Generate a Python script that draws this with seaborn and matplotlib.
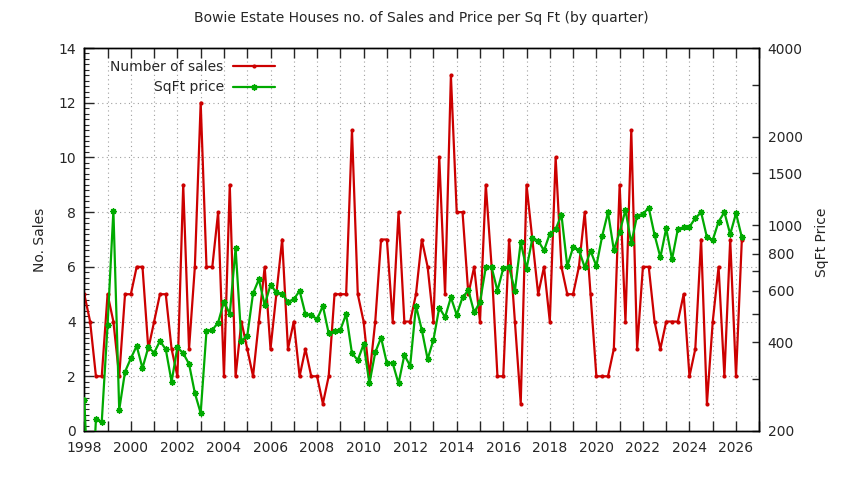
import numpy as np
import pandas as pd
import matplotlib
matplotlib.use("Agg")
import matplotlib.pyplot as plt
import matplotlib.ticker as mticker
import seaborn as sns

# ---------------- data ----------------
first_quarter = "1998Q1"
sales = [5, 4, 2, 2, 5, 4, 2, 5, 5, 6,
         6, 3, 4, 5, 5, 3, 2, 9, 3, 6,
         12, 6, 6, 8, 2, 9, 2, 4, 3, 2,
         4, 6, 3, 5, 7, 3, 4, 2, 3, 2,
         2, 1, 2, 5, 5, 5, 11, 5, 4, 2,
         4, 7, 7, 4, 8, 4, 4, 5, 7, 6,
         4, 10, 5, 13, 8, 8, 5, 6, 4, 9,
         6, 2, 2, 7, 4, 1, 9, 7, 5, 6,
         4, 10, 6, 5, 5, 6, 8, 5, 2, 2,
         2, 3, 9, 4, 11, 3, 6, 6, 4, 3,
         4, 4, 4, 5, 2, 3, 7, 1, 4, 6,
         2, 7, 2, 7]
sqft_price = [255, 90, 219, 215, 458, 1121, 236, 318, 353, 389,
              327, 385, 369, 404, 379, 294, 385, 367, 338, 269,
              230, 438, 441, 467, 550, 499, 835, 405, 420, 587,
              655, 536, 627, 592, 584, 550, 560, 599, 499, 496,
              479, 532, 429, 437, 441, 499, 367, 348, 394, 290,
              370, 415, 340, 340, 290, 362, 333, 533, 441, 351,
              408, 525, 487, 569, 496, 569, 601, 506, 548, 720,
              720, 599, 714, 722, 598, 876, 711, 903, 886, 821,
              936, 969, 1085, 726, 841, 824, 719, 818, 727, 919,
              1107, 824, 946, 1127, 868, 1078, 1092, 1147, 927, 778,
              976, 766, 969, 984, 988, 1056, 1107, 910, 891, 1028,
              1107, 932, 1098, 910]
year_ticks = list(range(1998, 2028))
left_ticks = [0, 2, 4, 6, 8, 10, 12, 14]
right_ticks = [200, 400, 600, 800, 1000, 1500, 2000, 4000]
right_minor = [300, 500, 700, 900, 3000]
title = "Bowie Estate Houses no. of Sales and Price per Sq Ft (by quarter)"

periods = pd.period_range(first_quarter, periods=len(sales), freq="Q")
df = pd.DataFrame({
    "t": periods.year + (periods.quarter - 1) / 4.0,
    "sales": sales,
    "price": sqft_price,
})

# ---------------- style ----------------
sns.set_style("white")
plt.rcParams["font.family"] = ["DejaVu Sans"]
plt.rcParams["font.size"] = 9.5

RED = "#cc0000"
GREEN = "#00aa00"

W, H = 844, 480
fig = plt.figure(figsize=(W / 100, H / 100), dpi=100)
L, R, T, B = 84.3, 759.3, 48, 431
ax = fig.add_axes([L / W, 1 - B / H, (R - L) / W, (B - T) / H])
ax2 = ax.twinx()

sns.lineplot(data=df, x="t", y="sales", ax=ax, color=RED, lw=1.6,
             marker="o", markersize=3, markeredgewidth=0,
             label="Number of sales", legend=False, zorder=3)
sns.lineplot(data=df, x="t", y="price", ax=ax2, color=GREEN, lw=1.6,
             marker=(8, 2, 0), markersize=4.5, markeredgewidth=1.0,
             markeredgecolor=GREEN, markerfacecolor=GREEN,
             label="SqFt price", legend=False, zorder=3)

ax.set_xlim(1998, 2027)
ax.set_ylim(0, 14)
ax2.set_yscale("log")
ax2.set_ylim(200, 4000)

# x ticks: every year, labels on even years
ax.set_xticks(year_ticks)
ax.set_xticklabels([str(y) if y % 2 == 0 else "" for y in year_ticks])
ax.tick_params(axis="x", direction="in", length=7, width=1, top=True,
               bottom=True, pad=7, labelsize=10)

ax.set_yticks(left_ticks)
ax.yaxis.set_minor_locator(mticker.MultipleLocator(0.2))
ax.tick_params(axis="y", which="major", direction="in", length=7, width=1,
               left=True, right=False, pad=6, labelsize=10)
ax.tick_params(axis="y", which="minor", direction="in", length=3.5,
               width=0.8, left=True, right=False)

ax2.yaxis.set_major_locator(mticker.FixedLocator(right_ticks))
ax2.yaxis.set_major_formatter(mticker.FixedFormatter([str(v) for v in right_ticks]))
ax2.yaxis.set_minor_locator(mticker.FixedLocator(right_minor))
ax2.yaxis.set_minor_formatter(mticker.NullFormatter())
ax2.tick_params(axis="y", which="major", direction="in", length=5, width=1,
                right=True, left=False, pad=6, labelsize=10)
ax2.tick_params(axis="y", which="minor", direction="in", length=5, width=1,
                right=True, left=False)

# grid
ax.grid(True, which="major", axis="both", linestyle=(0, (1, 3)),
        color="#a0a0a0", lw=0.8)
ax.set_axisbelow(True)

for a in (ax, ax2):
    for s in a.spines.values():
        s.set_color("black")
        s.set_linewidth(1.0)

ax.set_xlabel("")
ax.set_ylabel("")
ax2.set_ylabel("")

# labels and title
fig.text((L + R) / 2 / W, 1 - 18 / H, title, ha="center", va="center",
         fontsize=10)
fig.text(40 / W, 1 - 239.5 / H, "No. Sales", rotation=90, ha="center",
         va="center", fontsize=10)
fig.text(822 / W, 1 - 242 / H, "SqFt Price", rotation=90, ha="center",
         va="center", fontsize=10)

# legend
h1, l1 = ax.get_legend_handles_labels()
h2, l2 = ax2.get_legend_handles_labels()
leg = ax2.legend(h1 + h2, l1 + l2, loc="upper right",
                 bbox_to_anchor=(0.295, 0.99), frameon=False,
                 markerfirst=False, handlelength=3.0, labelspacing=0.45,
                 fontsize=10, borderaxespad=0.2, handletextpad=0.7)

fig.savefig("out.png", dpi=100)
